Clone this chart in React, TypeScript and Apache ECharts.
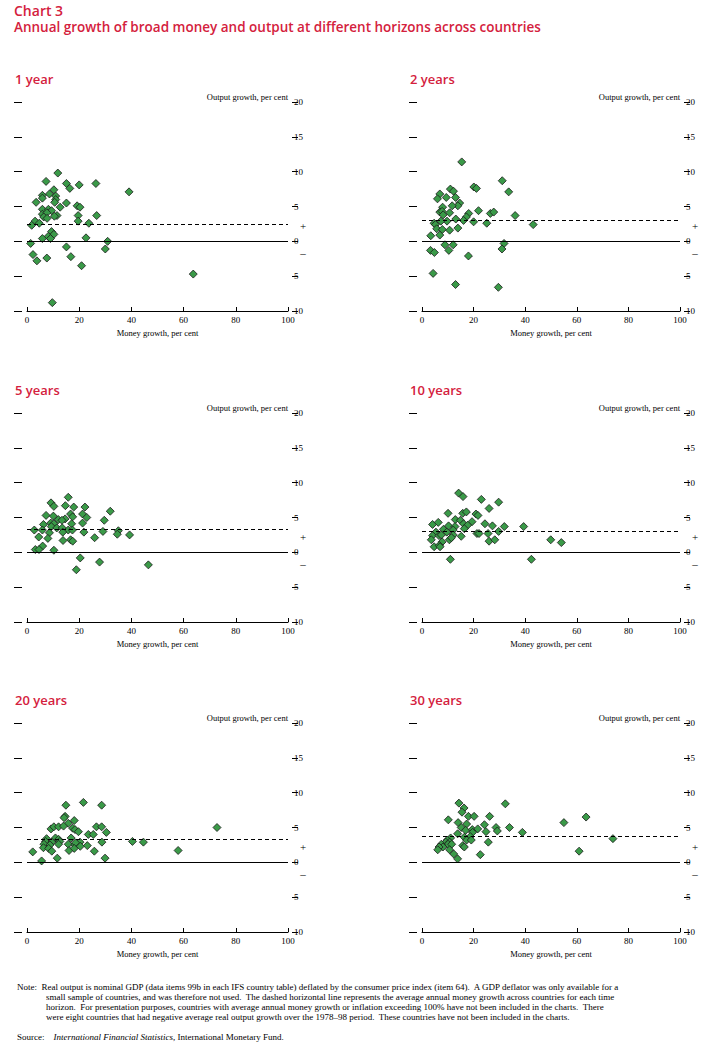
import React, { useRef, useEffect } from 'react'
import * as echarts from 'echarts'

type Pt = [number, number]

const panelTitles = ['1 year', '2 years', '5 years', '10 years', '20 years', '30 years']
const averageLines = [2.5, 3.0, 3.3, 3.0, 3.3, 3.8]

const year1: Pt[] = [
  [11.8, 9.8], [7.3, 8.6], [15.1, 8.3], [20, 8.1], [26.4, 8.3], [16.4, 7.6], [39.1, 7.1], [10.3, 7.4],
  [8.6, 6.8], [5.9, 6.6], [5.9, 6.2], [11, 6.5], [11, 6.0], [3.5, 5.6], [10.6, 5.6], [15.1, 5.5],
  [12.7, 4.9], [19.2, 5.1], [20.3, 4.9], [5.9, 4.6], [8.2, 4.6], [9.4, 4.4], [5.9, 3.9], [7.6, 4.1],
  [11.5, 3.7], [10.5, 3.6], [6.4, 3.5], [7.7, 3.3], [19.6, 3.7], [26.7, 3.7], [19.6, 2.9], [23.7, 2.6],
  [3.1, 2.9], [4.7, 2.6], [1.8, 2.3], [9.4, 1.4], [10.3, 1.0], [8.1, 0.7], [5.9, 0.4], [9, 0.4],
  [22.6, 0.5], [30.9, 0], [1.4, -0.3], [15.1, -0.8], [30, -1.1], [2.3, -1.9], [7.6, -2.4], [16.8, -2.2],
  [3.8, -2.8], [20.9, -3.5], [63.7, -4.7], [9.7, -8.8],
]
const year2: Pt[] = [
  [15.4, 11.4], [31.1, 8.7], [20.1, 7.8], [21.1, 7.6], [11, 7.5], [12.2, 7.2], [33.6, 7.1], [6.9, 6.8],
  [6, 6.1], [9.4, 6.3], [13, 6.3], [14.6, 5.5], [13.9, 5.1], [11.7, 5.1], [8, 4.9], [6.9, 4.2],
  [7.8, 4.3], [10.7, 4.1], [8.2, 3.8], [21.9, 4.4], [26.5, 4.0], [27.8, 4.2], [36.1, 3.7], [18.1, 4.0],
  [17.2, 3.5], [13.1, 3.2], [16.1, 3.0], [9.7, 2.9], [7.3, 2.9], [20, 2.8], [25.1, 2.6], [43.1, 2.4],
  [4.7, 2.6], [5.2, 2.4], [5.7, 1.8], [7.9, 1.7], [10.7, 1.6], [13.9, 1.9], [6.9, 0.9], [3.4, 0.8],
  [31.8, -0.3], [31, -1.1], [8.9, -0.5], [12.1, -0.5], [3.3, -1.3], [4.8, -1.6], [10.4, -1.3], [18, -2.1],
  [4.3, -4.6], [13, -6.2], [29.6, -6.6],
]
const year5: Pt[] = [
  [15.8, 7.9], [9.2, 7.1], [10.3, 6.6], [14.7, 6.7], [17.9, 6.5], [22.2, 6.5], [31.9, 5.9], [7.3, 5.3],
  [10.1, 5.2], [16.7, 5.5], [17.5, 5.1], [21.3, 5.5], [22.9, 5.0], [29.6, 4.6], [12, 4.7], [14.6, 4.8],
  [13.4, 4.6], [6.3, 4.0], [9.1, 4.2], [10.3, 4.1], [17.1, 4.1], [21.3, 4.2], [9.3, 3.7], [11.4, 3.5],
  [13.5, 3.5], [15.8, 3.2], [17.4, 3.2], [2.8, 3.2], [5.9, 3.2], [8.6, 2.8], [13.7, 2.9], [21.8, 2.9],
  [29.1, 3.0], [35, 3.1], [34.6, 2.6], [39.3, 2.5], [4.5, 2.2], [8.0, 2.0], [25.9, 2.1], [13.8, 1.7],
  [16.7, 1.8], [17.5, 1.6], [6, 0.9], [3.2, 0.4], [4.6, 0.4], [10.3, 0.3], [20.4, -0.8], [27.8, -1.4],
  [46.5, -1.8], [18.9, -2.5],
]
const year10: Pt[] = [
  [14.2, 8.5], [15.9, 8.0], [23, 7.6], [29.7, 7.2], [26, 6.3], [10.1, 5.6], [15.8, 5.6], [17.2, 5.8],
  [20.9, 5.5], [21.7, 5.3], [12.9, 4.7], [14.9, 4.6], [19.4, 4.4], [4.1, 4.0], [6.3, 4.3], [10.3, 3.8],
  [12.8, 3.7], [16.1, 4.1], [17.7, 3.9], [24.4, 4.1], [27.3, 3.8], [31.9, 3.7], [39.4, 3.7], [8.3, 3.3],
  [12.1, 3.2], [16.4, 3.4], [5.4, 2.9], [9.6, 2.9], [21.3, 2.7], [22.1, 2.7], [25.6, 2.7], [29.7, 3.0],
  [4.1, 2.4], [6.6, 2.4], [7.5, 2.5], [12.1, 2.5], [15.2, 2.3], [3.6, 1.8], [7.8, 1.5], [10.6, 1.8],
  [11.4, 2.1], [4.7, 0.8], [6.7, 1.0], [7, 0.8], [26, 1.6], [28.2, 1.8], [49.9, 1.8], [54, 1.4],
  [11, -1.0], [42.4, -1.0],
]
const year20: Pt[] = [
  [14.9, 8.2], [21.6, 8.6], [28.6, 8.2], [14.6, 6.6], [14.2, 6.4], [18.1, 6.0], [15.8, 5.6], [9.2, 4.8],
  [10.3, 5.1], [12.1, 5.1], [14, 5.2], [26.6, 5.1], [28.6, 5.1], [17.5, 4.9], [18.4, 4.7], [19.7, 4.4],
  [23.5, 4.0], [25.4, 4.0], [30.4, 4.3], [7.5, 3.4], [10.9, 3.5], [12.1, 3.3], [16.9, 3.5], [7.1, 3.0],
  [9.5, 2.9], [12.6, 3.0], [20.3, 2.9], [28.7, 2.9], [40.4, 3.0], [44.6, 2.9], [6.5, 2.6], [8.8, 2.5],
  [12.1, 2.6], [15.8, 2.6], [18.3, 2.5], [18.6, 2.8], [23.1, 2.4], [6.3, 2.1], [8.3, 2.0], [16.1, 1.7],
  [18.1, 2.0], [20.4, 2.3], [9.5, 1.6], [25.8, 1.6], [2.2, 1.5], [11.6, 0.6], [29.9, 0.6], [5.6, 0.2],
  [72.8, 5.0], [57.9, 1.7],
]
const year30: Pt[] = [
  [14.3, 8.5], [16.3, 7.8], [15.5, 7.2], [32.3, 8.4], [18, 6.6], [20.2, 6.6], [26.2, 6.6], [10.2, 6.1],
  [14, 5.7], [17.3, 5.5], [24.2, 5.4], [55, 5.7], [15.2, 5.0], [16.9, 4.6], [19.5, 4.7], [21.6, 4.8],
  [28.7, 5.0], [33.9, 5.0], [29.2, 4.5], [24.8, 4.4], [19.6, 4.3], [13.8, 4.1], [38.9, 4.3], [16.4, 3.6],
  [18.7, 3.7], [11.1, 3.5], [9.8, 3.2], [17.3, 3.2], [19.1, 3.2], [9.2, 2.9], [10.7, 2.9], [10.1, 2.6],
  [7.5, 2.6], [11.5, 2.6], [8.1, 2.2], [6.6, 2.2], [15.8, 2.4], [16.4, 2.2], [25.7, 2.9], [6.1, 1.8],
  [10.7, 1.8], [12.3, 1.2], [13.8, 0.5], [22.6, 1.1], [63.6, 6.5], [74, 3.4], [60.9, 1.6],
]
const panelData = [year1, year2, year5, year10, year20, year30]

const RED = '#d4213d'
const SERIF = '"Liberation Serif", "DejaVu Serif", serif'
const SANS = '"Open Sans", "Noto Sans", sans-serif'

// grid geometry (px)
const colLeft = [27, 422]
const colWidth = [261, 258]
const rowTop = [102, 413, 723]
const gridH = 209
const Y_MIN = -10
const Y_MAX = 20

const App: React.FC = () => {
  const ref = useRef<HTMLDivElement>(null)

  useEffect(() => {
    document.body.style.margin = '0'
    if (!ref.current) return
    const chart = echarts.init(ref.current, undefined, { renderer: 'svg' })

    const grids: any[] = []
    const xAxes: any[] = []
    const yAxes: any[] = []
    const series: any[] = []
    const graphics: any[] = []

    panelData.forEach((data, i) => {
      const col = i % 2
      const row = Math.floor(i / 2)
      const left = colLeft[col]
      const width = colWidth[col]
      const top = rowTop[row]
      grids.push({ left, top, width, height: gridH })
      xAxes.push({
        type: 'value', gridIndex: i, min: 0, max: 100, interval: 20,
        axisLine: { onZero: false, lineStyle: { color: '#000', width: 1 } },
        axisTick: { inside: true, length: 4, lineStyle: { color: '#000' } },
        axisLabel: { color: '#000', fontSize: 9, fontFamily: SERIF, margin: 4 },
        splitLine: { show: false },
        name: 'Money growth, per cent', nameLocation: 'middle', nameGap: 17,
        nameTextStyle: { color: '#000', fontSize: 8.5, fontFamily: SERIF },
      })
      // right axis with labels
      yAxes.push({
        type: 'value', gridIndex: i, position: 'right', min: Y_MIN, max: Y_MAX, interval: 5, offset: 4,
        axisLine: { show: false, onZero: false },
        axisTick: { show: true, length: 6, lineStyle: { color: '#000' } },
        axisLabel: { color: '#000', fontSize: 9, fontFamily: SERIF, margin: 2, formatter: (v: number) => String(Math.abs(v)) },
        splitLine: { show: false },
      })
      // left axis, ticks only
      yAxes.push({
        type: 'value', gridIndex: i, position: 'left', min: Y_MIN, max: Y_MAX, interval: 5, offset: 5,
        axisLine: { show: false, onZero: false },
        axisTick: { show: true, length: 8, lineStyle: { color: '#000' } },
        axisLabel: { show: false },
        splitLine: { show: false },
      })
      series.push({
        type: 'scatter', xAxisIndex: i, yAxisIndex: i * 2, data,
        symbol: 'diamond', symbolSize: 8,
        itemStyle: { color: '#3a9a48', borderColor: '#1b1b1b', borderWidth: 0.8, opacity: 1 },
        markLine: {
          silent: true, symbol: 'none', label: { show: false },
          data: [
            { yAxis: 0, lineStyle: { color: '#000', type: 'solid', width: 1 } },
            { yAxis: averageLines[i], lineStyle: { color: '#000', type: [4, 3], width: 1 } },
          ],
        },
      })
      const toY = (v: number) => top + ((Y_MAX - v) / (Y_MAX - Y_MIN)) * gridH
      graphics.push(
        { type: 'text', left: left - 12, top: top - 30, style: { text: panelTitles[i], fill: RED, font: `600 13px ${SANS}` } },
        { type: 'text', x: left + width, y: top - 10, style: { text: 'Output growth, per cent', fill: '#000', font: `8.5px ${SERIF}`, align: 'right' } },
        { type: 'text', x: left + width + 15, y: toY(2.2) - 6, style: { text: '+', fill: '#000', font: `11px ${SERIF}`, align: 'center' } },
        { type: 'text', x: left + width + 15, y: toY(-1.8) - 6, style: { text: '–', fill: '#000', font: `11px ${SERIF}`, align: 'center' } },
      )
    })

    const noteFont = `9px ${SERIF}`
    graphics.push(
      { type: 'text', left: 14, top: 3, style: { text: 'Chart 3', fill: RED, font: `600 14px ${SANS}` } },
      { type: 'text', left: 14, top: 20, style: { text: 'Annual growth of broad money and output at different horizons across countries', fill: RED, font: `600 13.5px ${SANS}` } },
      { type: 'text', left: 17, top: 982, style: { text: 'Note:  Real output is nominal GDP (data items 99b in each IFS country table) deflated by the consumer price index (item 64).  A GDP deflator was only available for a', fill: '#000', font: noteFont } },
      { type: 'text', left: 46, top: 992, style: { text: 'small sample of countries, and was therefore not used.  The dashed horizontal line represents the average annual money growth across countries for each time', fill: '#000', font: noteFont } },
      { type: 'text', left: 46, top: 1002, style: { text: 'horizon.  For presentation purposes, countries with average annual money growth or inflation exceeding 100% have not been included in the charts.  There', fill: '#000', font: noteFont } },
      { type: 'text', left: 46, top: 1012, style: { text: 'were eight countries that had negative average real output growth over the 1978–98 period.  These countries have not been included in the charts.', fill: '#000', font: noteFont } },
      {
        type: 'text', left: 17, top: 1032,
        style: {
          text: '{a|Source:    }{b|International Financial Statistics}{a|, International Monetary Fund.}',
          rich: {
            a: { fill: '#000', fontSize: 9, fontFamily: SERIF },
            b: { fill: '#000', fontSize: 9, fontFamily: SERIF, fontStyle: 'italic' },
          },
        },
      },
    )

    chart.setOption({
      animation: false,
      backgroundColor: '#fff',
      grid: grids,
      xAxis: xAxes,
      yAxis: yAxes,
      series,
      graphic: graphics,
    })
    return () => chart.dispose()
  }, [])

  return <div ref={ref} style={{ width: 725, height: 1047 }} />
}

export default App
